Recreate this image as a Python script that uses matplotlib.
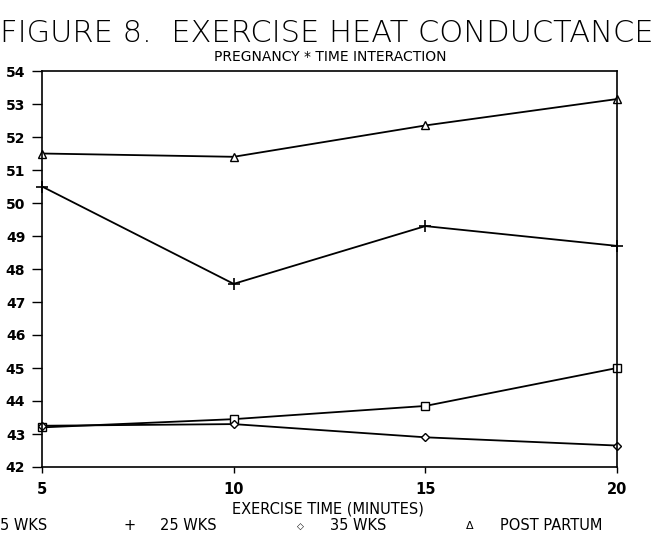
import matplotlib
matplotlib.use("Agg")
import matplotlib.pyplot as plt

times = [5, 10, 15, 20]
wks15 = [43.2, 43.45, 43.85, 45.0]
wks25 = [50.5, 47.55, 49.3, 48.7]
wks35 = [43.25, 43.3, 42.9, 42.65]
post_partum = [51.5, 51.4, 52.35, 53.15]
yticks = list(range(42, 55))
xticks = [5, 10, 15, 20]

plt.rcParams['font.family'] = ['DejaVu Sans']

fig = plt.figure(figsize=(6.64, 5.47), dpi=100)
ax = fig.add_axes([42/664, 1-467/547, (617-42)/664, (467-71)/547])

kw = dict(color='black', lw=1.3, clip_on=False)
ax.plot(times, wks15, marker='s', ms=6, mfc='white', mec='black', mew=1, **kw)
ax.plot(times, wks25, marker='+', ms=8, mew=1.2, **kw)
ax.plot(times, wks35, marker='D', ms=4, mfc='white', mec='black', mew=1, **kw)
ax.plot(times, post_partum, marker='^', ms=6, mfc='white', mec='black', mew=1, **kw)

ax.set_xlim(5, 20)
ax.set_ylim(42, 54)
ax.set_xticks(xticks)
ax.set_yticks(yticks)
ax.tick_params(axis='y', direction='out', length=7, width=1, labelsize=10, pad=5)
ax.tick_params(axis='x', direction='out', length=4, width=1, labelsize=10.5, pad=7)
for lab in ax.get_yticklabels() + ax.get_xticklabels():
    lab.set_fontweight('semibold')
for s in ax.spines.values():
    s.set_linewidth(1.2)

fig.text(0.0, 1-33/547, "FIGURE 8.  EXERCISE HEAT CONDUCTANCE", fontsize=22,
         ha='left', va='center', fontweight='light')
fig.text(330/664, 1-57/547, "PREGNANCY * TIME INTERACTION", fontsize=10,
         ha='center', va='center')
fig.text(328/664, 1-509/547, "EXERCISE TIME (MINUTES)", fontsize=10.5,
         ha='center', va='center')

ly = 1-526/547
fig.text(0/664, ly, "5 WKS", fontsize=10.5, ha='left', va='center')
fig.text(130/664, ly, "+", fontsize=10.5, ha='center', va='center')
fig.text(160/664, ly, "25 WKS", fontsize=10.5, ha='left', va='center')
fig.text(300/664, ly, "\u25c7", fontsize=6.5, ha='center', va='center')
fig.text(330/664, ly, "35 WKS", fontsize=10.5, ha='left', va='center')
fig.text(470/664, ly, "\u0394", fontsize=8, ha='center', va='center')
fig.text(500/664, ly, "POST PARTUM", fontsize=10.5, ha='left', va='center')

fig.savefig("out.png", dpi=100)
